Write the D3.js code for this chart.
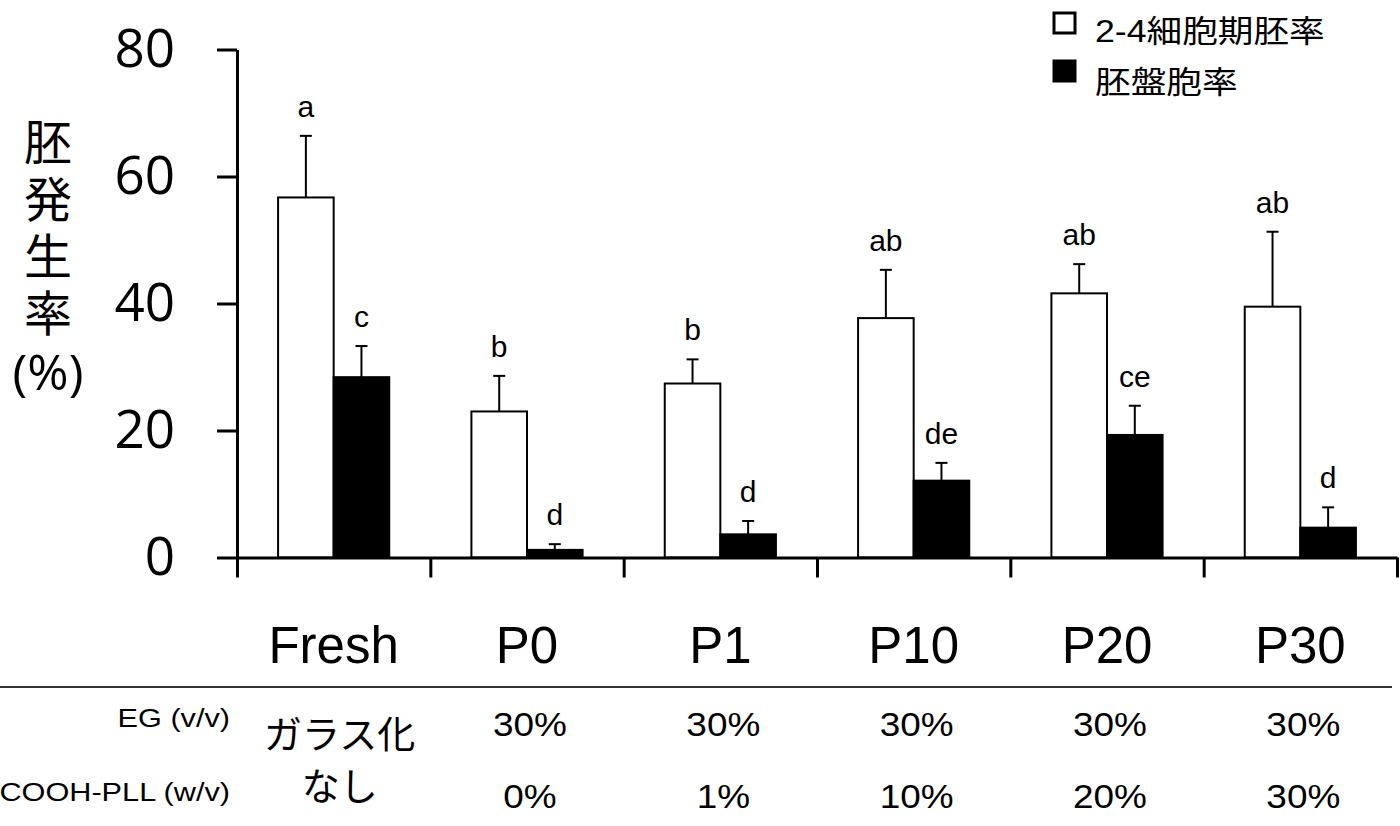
<!DOCTYPE html>
<html lang="ja">
<head>
<meta charset="UTF-8">
<title>胚発生率</title>
<script src="https://d3js.org/d3.v7.min.js"></script>
<style>
body { margin: 0; background: #fff; }
.axis path, .axis line { fill: none; stroke: #000; stroke-width: 3px; }
.ytick text { font-family: "Open Sans", sans-serif; font-size: 53px; fill: #000; }
.sig { font-family: "Liberation Sans", Arial, sans-serif; font-size: 30px; text-anchor: middle; }
.cat { font-family: "Liberation Sans", Arial, sans-serif; font-size: 51px; text-anchor: middle; }
.tbl { font-family: "Liberation Sans", Arial, sans-serif; }
.jp { font-family: "Noto Sans CJK JP", sans-serif; }
</style>
</head>
<body>
<div id="chart"></div>
<script>
// データ
var categories = ["Fresh", "P0", "P1", "P10", "P20", "P30"];
var series = ["2-4細胞期胚率", "胚盤胞率"];
var cleavageMean = [56.7, 23.0, 27.4, 37.7, 41.6, 39.5];
var cleavageErr  = [9.7, 5.6, 3.8, 7.6, 4.6, 11.8];
var blastMean    = [28.4, 1.2, 3.65, 12.1, 19.3, 4.7];
var blastErr     = [4.9, 0.9, 2.1, 2.8, 4.6, 3.2];
var cleavageSig  = ["a", "b", "b", "ab", "ab", "ab"];
var blastSig     = ["c", "d", "d", "de", "ce", "d"];
var egConc  = ["", "30%", "30%", "30%", "30%", "30%"];
var pllConc = ["", "0%", "1%", "10%", "20%", "30%"];
var yTicks = [0, 20, 40, 60, 80];

var width = 1400, height = 826;
var svg = d3.select("#chart").append("svg")
    .attr("width", width).attr("height", height);

var x = d3.scaleBand().domain(categories).range([237, 1397]).padding(0);
var bw = x.bandwidth();
var groupW = bw * 0.575;
var x1 = d3.scaleBand().domain(series).range([(bw - groupW) / 2, (bw + groupW) / 2]);
var y = d3.scaleLinear().domain([0, 80]).range([557.5, 49.5]);

var rows = categories.map(function(c, i) {
    return [
        {cat: c, s: series[0], v: cleavageMean[i], e: cleavageErr[i], sig: cleavageSig[i]},
        {cat: c, s: series[1], v: blastMean[i], e: blastErr[i], sig: blastSig[i]}
    ];
});
var flat = d3.merge(rows);
var fills = {"2-4細胞期胚率": "#fff", "胚盤胞率": "#000"};

// 横に少し伸ばした文字
function stretched(sel, px, py, sx) {
    return sel.attr("transform", "translate(" + px + "," + py + ") scale(" + sx + ",1)");
}

// 誤差線
var eb = svg.selectAll("g.eb").data(flat).enter().append("g").attr("class", "eb")
    .attr("transform", function(d) { return "translate(" + (x(d.cat) + x1(d.s) + x1.bandwidth() / 2) + ",0)"; });
eb.append("line").attr("x1", 0).attr("x2", 0)
    .attr("y1", function(d) { return y(d.v); })
    .attr("y2", function(d) { return y(d.v + d.e); })
    .attr("stroke", "#000").attr("stroke-width", 2);
eb.append("line").attr("x1", -6).attr("x2", 6)
    .attr("y1", function(d) { return y(d.v + d.e); })
    .attr("y2", function(d) { return y(d.v + d.e); })
    .attr("stroke", "#000").attr("stroke-width", 2);
eb.append("text").attr("class", "sig")
    .attr("y", function(d) { return y(d.v + d.e) - 19; })
    .text(function(d) { return d.sig; });

// 棒
svg.selectAll("rect.bar").data(flat).enter().append("rect").attr("class", "bar")
    .attr("x", function(d) { return x(d.cat) + x1(d.s); })
    .attr("y", function(d) { return y(d.v); })
    .attr("width", x1.bandwidth())
    .attr("height", function(d) { return y(0) - y(d.v); })
    .attr("fill", function(d) { return fills[d.s]; })
    .attr("stroke", "#000").attr("stroke-width", 2);

// 軸
svg.append("g").attr("class", "axis ytick")
    .attr("transform", "translate(237,0)")
    .call(d3.axisLeft(y).tickValues(yTicks).tickSize(20).tickSizeOuter(0).tickPadding(42));

var xb = d3.scaleLinear().domain([0, categories.length]).range([237, 1397]);
svg.append("g").attr("class", "axis")
    .attr("transform", "translate(0," + y(0) + ")")
    .call(d3.axisBottom(xb).tickValues(d3.range(categories.length + 1)).tickFormat("").tickSize(20).tickSizeOuter(0));

// カテゴリ名
svg.selectAll("text.cat").data(categories).enter().append("text").attr("class", "cat")
    .attr("x", function(d) { return x(d) + bw / 2; })
    .attr("y", 663)
    .text(function(d) { return d; });

// Y軸ラベル（縦書き）
svg.append("text").attr("class", "jp")
    .attr("x", 48).attr("y", 118)
    .attr("writing-mode", "tb")
    .style("font-size", "48px").style("letter-spacing", "9px")
    .text("胚発生率");
svg.append("text").attr("x", 48).attr("y", 390).attr("text-anchor", "middle")
    .style("font-family", "'Open Sans', sans-serif").style("font-size", "50px")
    .text("(%)");

// 凡例
var leg = svg.selectAll("g.leg").data(series).enter().append("g").attr("class", "leg")
    .attr("transform", function(d, i) { return "translate(1054," + (13 + i * 48) + ")"; });
leg.append("rect").attr("width", 21).attr("height", 20)
    .attr("fill", function(d) { return fills[d]; })
    .attr("stroke", "#000").attr("stroke-width", 3);
leg.append("text")
    .each(function(d, i) { stretched(d3.select(this), 41, i === 0 ? 29 : 32, 1.15); })
    .style("font-family", "'Liberation Sans', 'Noto Sans CJK JP', sans-serif")
    .style("font-size", "31px")
    .text(function(d) { return d; });

// 表
svg.append("line").attr("x1", 0).attr("x2", 1392).attr("y1", 687).attr("y2", 687)
    .attr("stroke", "#333").attr("stroke-width", 2);
stretched(svg.append("text").attr("class", "tbl"), 230, 727, 1.18)
    .attr("text-anchor", "end").style("font-size", "26px").text("EG (v/v)");
stretched(svg.append("text").attr("class", "tbl"), 230, 801, 1.18)
    .attr("text-anchor", "end").style("font-size", "26px").text("COOH-PLL (w/v)");
svg.selectAll("text.eg").data(egConc).enter().append("text").attr("class", "tbl eg")
    .each(function(d, i) { stretched(d3.select(this), x(categories[i]) + bw / 2 + 3, 736, 1.12); })
    .attr("text-anchor", "middle").style("font-size", "33px")
    .text(function(d) { return d; });
svg.selectAll("text.pll").data(pllConc).enter().append("text").attr("class", "tbl pll")
    .each(function(d, i) { stretched(d3.select(this), x(categories[i]) + bw / 2 + 3, 808, 1.12); })
    .attr("text-anchor", "middle").style("font-size", "33px")
    .text(function(d) { return d; });
svg.append("text").attr("class", "jp").attr("x", x("Fresh") + bw / 2 + 6).attr("y", 748)
    .attr("text-anchor", "middle").style("font-size", "38px").text("ガラス化");
svg.append("text").attr("class", "jp").attr("x", x("Fresh") + bw / 2 + 6).attr("y", 800)
    .attr("text-anchor", "middle").style("font-size", "38px").text("なし");
</script>
</body>
</html>
